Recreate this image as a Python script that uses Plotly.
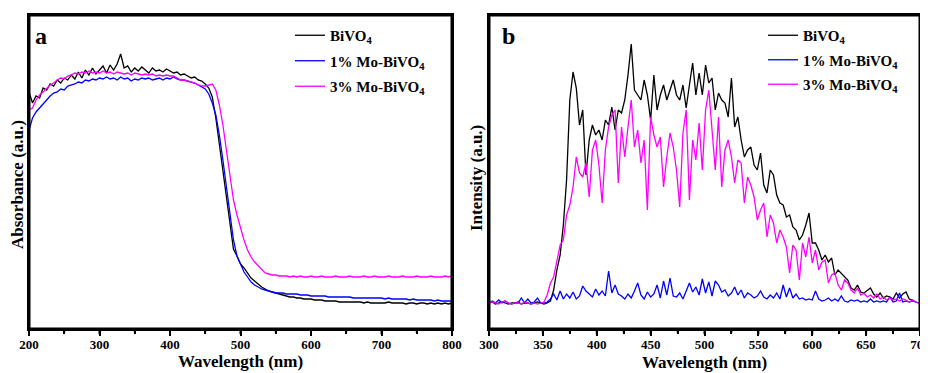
import plotly.graph_objects as go

# ---------------- Panel a: UV-vis absorbance ----------------
wl_a = list(range(200, 805, 5))
abs_bivo4 = [
    237, 226, 233, 231, 241, 239, 245, 243, 249, 246,
    251, 249, 254, 250, 257, 251, 259, 254, 261, 255,
    259, 263, 256, 264, 259, 265, 275, 261, 263, 257,
    261, 258, 262, 259, 256, 261, 258, 259, 257, 260,
    258, 256, 257, 254, 255, 253, 251, 252, 249, 248,
    245, 241, 232, 211, 184, 159, 134, 104, 80, 73,
    65, 61, 56, 51, 48, 45, 42, 40, 38, 37,
    36, 35, 34, 33, 32, 32, 31, 31, 30, 30,
    30, 29, 29, 29, 28, 28, 28, 28, 27, 27,
    27, 27, 27, 27, 27, 26, 27, 26, 26, 26,
    26, 26, 27, 26, 26, 26, 26, 25, 26, 26,
    25, 26, 26, 25, 26, 25, 26, 25, 26, 25,
    26]
abs_mo1 = [
    199, 211, 217, 221, 226, 229, 233, 236, 237, 240,
    239, 243, 244, 245, 247, 246, 249, 248, 250, 249,
    251, 250, 252, 250, 251, 249, 252, 250, 251, 248,
    250, 249, 251, 250, 251, 249, 250, 251, 249, 251,
    250, 252, 250, 249, 249, 248, 247, 246, 244, 242,
    240, 235, 226, 214, 194, 169, 144, 119, 89, 73,
    65, 57, 52, 47, 44, 42, 40, 39, 38, 37,
    36, 36, 36, 35, 35, 35, 35, 34, 34, 34,
    33, 33, 33, 33, 33, 32, 32, 32, 32, 32,
    32, 32, 31, 31, 31, 31, 31, 31, 31, 31,
    31, 30, 31, 30, 30, 30, 30, 30, 29, 30,
    29, 29, 29, 29, 29, 28, 29, 28, 28, 28,
    28]
abs_mo3 = [
    219, 221, 229, 234, 237, 241, 244, 246, 249, 251,
    250, 253, 254, 256, 255, 257, 256, 258, 256, 257,
    256, 258, 256, 257, 255, 257, 256, 255, 256, 254,
    256, 255, 254, 255, 254, 255, 253, 254, 253, 254,
    253, 253, 251, 249, 249, 248, 247, 246, 244, 243,
    243, 244, 245, 239, 224, 204, 179, 151, 129, 114,
    101, 89, 79, 72, 67, 63, 59, 56, 55, 54,
    54, 53, 53, 53, 52, 53, 52, 53, 52, 52,
    53, 52, 52, 53, 52, 52, 52, 53, 52, 52,
    52, 53, 52, 52, 52, 53, 52, 52, 53, 52,
    52, 52, 53, 52, 52, 52, 53, 52, 52, 52,
    53, 52, 52, 52, 53, 52, 52, 52, 53, 52,
    53]

# ---------------- Panel b: PL intensity ----------------
wl_b = list(range(300, 700, 3))
pl_bivo4 = [
    26, 27, 25, 26, 27, 26, 25, 26, 26, 27,
    25, 26, 26, 25, 26, 27, 26, 25, 26, 28,
    39, 59, 74, 104, 149, 229, 257, 241, 204, 219,
    154, 189, 204, 194, 199, 189, 209, 204, 222, 199,
    219, 216, 229, 254, 285, 239, 234, 229, 249, 234,
    209, 254, 219, 234, 244, 229, 239, 249, 234, 229,
    244, 221, 244, 266, 234, 256, 234, 264, 246, 251,
    219, 236, 229, 226, 212, 251, 202, 212, 189, 172,
    179, 182, 164, 159, 176, 144, 136, 159, 154, 134,
    126, 124, 112, 114, 102, 99, 89, 94, 104, 116,
    86, 86, 79, 69, 74, 67, 71, 54, 59, 56,
    52, 49, 41, 39, 44, 37, 36, 39, 41, 35,
    32, 36, 31, 33, 32, 30, 36, 31, 35, 37,
    30, 29, 27, 26]
pl_mo1 = [
    26, 28, 26, 29, 26, 28, 26, 25, 26, 26,
    31, 26, 30, 26, 27, 31, 26, 26, 27, 30,
    35, 29, 38, 30, 35, 31, 37, 30, 33, 43,
    38, 35, 32, 40, 34, 38, 33, 58, 36, 44,
    35, 33, 30, 35, 31, 38, 46, 34, 30, 37,
    32, 35, 44, 31, 48, 34, 51, 33, 32, 36,
    30, 38, 46, 37, 42, 34, 50, 36, 47, 33,
    48, 44, 37, 39, 33, 36, 42, 34, 39, 31,
    36, 34, 31, 33, 38, 32, 30, 34, 31, 36,
    30, 44, 32, 41, 31, 35, 30, 31, 29, 30,
    29, 38, 30, 28, 29, 31, 28, 30, 28, 33,
    28, 27, 29, 28, 29, 27, 28, 27, 30, 27,
    28, 27, 28, 27, 32, 27, 28, 36, 27, 28,
    27, 28, 27, 26]
pl_mo3 = [
    26, 27, 26, 25, 27, 28, 26, 25, 26, 26,
    25, 27, 26, 25, 26, 25, 26, 27, 34, 46,
    52, 69, 84, 89, 114, 124, 142, 172, 156, 152,
    166, 132, 179, 189, 164, 126, 179, 202, 214, 219,
    146, 202, 172, 202, 229, 182, 199, 166, 189, 119,
    212, 194, 182, 192, 142, 172, 196, 182, 159, 122,
    196, 219, 129, 189, 169, 206, 159, 219, 239, 199,
    159, 212, 142, 179, 189, 172, 146, 169, 166, 126,
    152, 144, 132, 109, 119, 126, 92, 114, 106, 86,
    99, 92, 82, 56, 84, 79, 49, 86, 72, 92,
    66, 79, 59, 67, 69, 46, 54, 56, 44, 39,
    49, 46, 39, 36, 41, 34, 36, 32, 34, 31,
    35, 30, 32, 29, 31, 29, 30, 28, 30, 29,
    27, 29, 27, 26]

# axis ranges and tick positions
XR_A = [200, 800]
XR_B = [300, 700]
YR = [0, 314]
major_a = list(range(200, 801, 100))
minor_a = list(range(250, 800, 100))
major_b = list(range(300, 701, 50))
minor_b = list(range(325, 700, 50))

names = ["BiVO<sub>4</sub>", "1% Mo-BiVO<sub>4</sub>", "3% Mo-BiVO<sub>4</sub>"]
colors = ["#000000", "#0000ff", "#ff00ff"]

FONT = "Liberation Serif"
OFF = 8                      # page body margin in the browser
W, H = 928 - OFF, 373 - OFF
MAJOR_LEN, MINOR_LEN = 5.5, 3.5

fig = go.Figure()
for i, (ys, nm, c) in enumerate(zip([abs_bivo4, abs_mo1, abs_mo3], names, colors)):
    fig.add_trace(go.Scatter(x=wl_a, y=ys, mode="lines", name=nm,
                             line=dict(color=c, width=1.3),
                             xaxis="x", yaxis="y", legend="legend",
                             legendgroup="a%d" % i))
for i, (ys, nm, c) in enumerate(zip([pl_bivo4, pl_mo1, pl_mo3], names, colors)):
    fig.add_trace(go.Scatter(x=wl_b, y=ys, mode="lines", name=nm,
                             line=dict(color=c, width=1.3),
                             xaxis="x2", yaxis="y2", legend="legend2",
                             legendgroup="b%d" % i))

# frames along the axis ranges (inner half of the line stays inside the plot)
for xr, xa, ya in ((XR_A, "x", "y"), (XR_B, "x2", "y2")):
    fig.add_trace(go.Scatter(x=[xr[0], xr[1], xr[1], xr[0], xr[0]],
                             y=[YR[0], YR[0], YR[1], YR[1], YR[0]],
                             mode="lines", line=dict(color="black", width=3),
                             xaxis=xa, yaxis=ya, showlegend=False,
                             hoverinfo="skip"))

# tick marks in thin strips just below each x axis
minor_from = 1 - MINOR_LEN / MAJOR_LEN
for majors, minors, xa, ya in ((major_a, minor_a, "x", "y3"),
                               (major_b, minor_b, "x2", "y4")):
    tx, ty = [], []
    for t in majors:
        tx += [t, t, None]
        ty += [0, 1, None]
    for t in minors:
        tx += [t, t, None]
        ty += [minor_from, 1, None]
    fig.add_trace(go.Scatter(x=tx, y=ty, mode="lines",
                             line=dict(color="black", width=2),
                             xaxis=xa, yaxis=ya, showlegend=False,
                             hoverinfo="skip"))

def px(x):
    return (x - OFF) / W

def py(y):
    return 1 - (y - OFF) / H

ydom = [py(329), py(15)]
tdom = [py(329 + MAJOR_LEN), py(329)]
tickfont = dict(family=FONT, size=13, color="black", weight="bold")
xcommon = dict(showline=True, linecolor="black", linewidth=2, mirror=True,
               ticks="outside", ticklen=5, tickwidth=2, tickcolor="black",
               ticklabelstandoff=-3, ticklabeloverflow="allow",
               showgrid=False, zeroline=False, tickfont=tickfont,
               automargin=False, tickmode="array")
yframe = dict(showline=True, linecolor="black", linewidth=2, mirror=True,
              ticks="", showticklabels=False, showgrid=False, zeroline=False,
              automargin=False)
yhidden = dict(showline=False, ticks="", showticklabels=False, showgrid=False,
               zeroline=False, automargin=False)

fig.update_layout(
    template="none",
    width=W, height=H,
    margin=dict(l=0, r=0, t=0, b=0, pad=0),
    paper_bgcolor="white", plot_bgcolor="rgba(0,0,0,0)",
    xaxis=dict(domain=[px(29), px(452)], range=XR_A, tickvals=major_a,
               minor=dict(tickmode="array", tickvals=minor_a, ticks="outside",
                          ticklen=3, tickwidth=2, tickcolor="black"),
               anchor="y", **xcommon),
    yaxis=dict(domain=ydom, range=YR, anchor="x", **yframe),
    xaxis2=dict(domain=[px(489), px(920)], range=XR_B, tickvals=major_b,
                minor=dict(tickmode="array", tickvals=minor_b, ticks="outside",
                           ticklen=3, tickwidth=2, tickcolor="black"),
                anchor="y2", **xcommon),
    yaxis2=dict(domain=ydom, range=YR, anchor="x2", **yframe),
    yaxis3=dict(domain=tdom, range=[0, 1], anchor="x", **yhidden),
    yaxis4=dict(domain=tdom, range=[0, 1], anchor="x2", **yhidden),
    legend=dict(x=px(290), y=py(19), xanchor="left", yanchor="top",
                bgcolor="rgba(0,0,0,0)", tracegroupgap=3,
                font=dict(family=FONT, size=15, color="black", weight="bold")),
    legend2=dict(x=px(763), y=py(19), xanchor="left", yanchor="top",
                 bgcolor="rgba(0,0,0,0)", tracegroupgap=2,
                 font=dict(family=FONT, size=15, color="black", weight="bold")),
    showlegend=True,
)

ann_font = dict(family=FONT, size=17, color="black", weight="bold")
def note(text, x, y, font, angle=0):
    fig.add_annotation(text=text, x=px(x), y=py(y), xref="paper", yref="paper",
                       xanchor="center", yanchor="middle", showarrow=False,
                       textangle=angle, font=font)

note("Wavelength (nm)", 241, 361, ann_font)
note("Wavelength (nm)", 704, 362, ann_font)
note("Absorbance (a.u.)", 17, 185, ann_font, -90)
note("Intensity (a.u.)", 476, 178, ann_font, -90)
lab_font = dict(family=FONT, size=24, color="black", weight="bold")
note("a", 41, 36, lab_font)
note("b", 508, 36, lab_font)

fig.write_html("out.html")
